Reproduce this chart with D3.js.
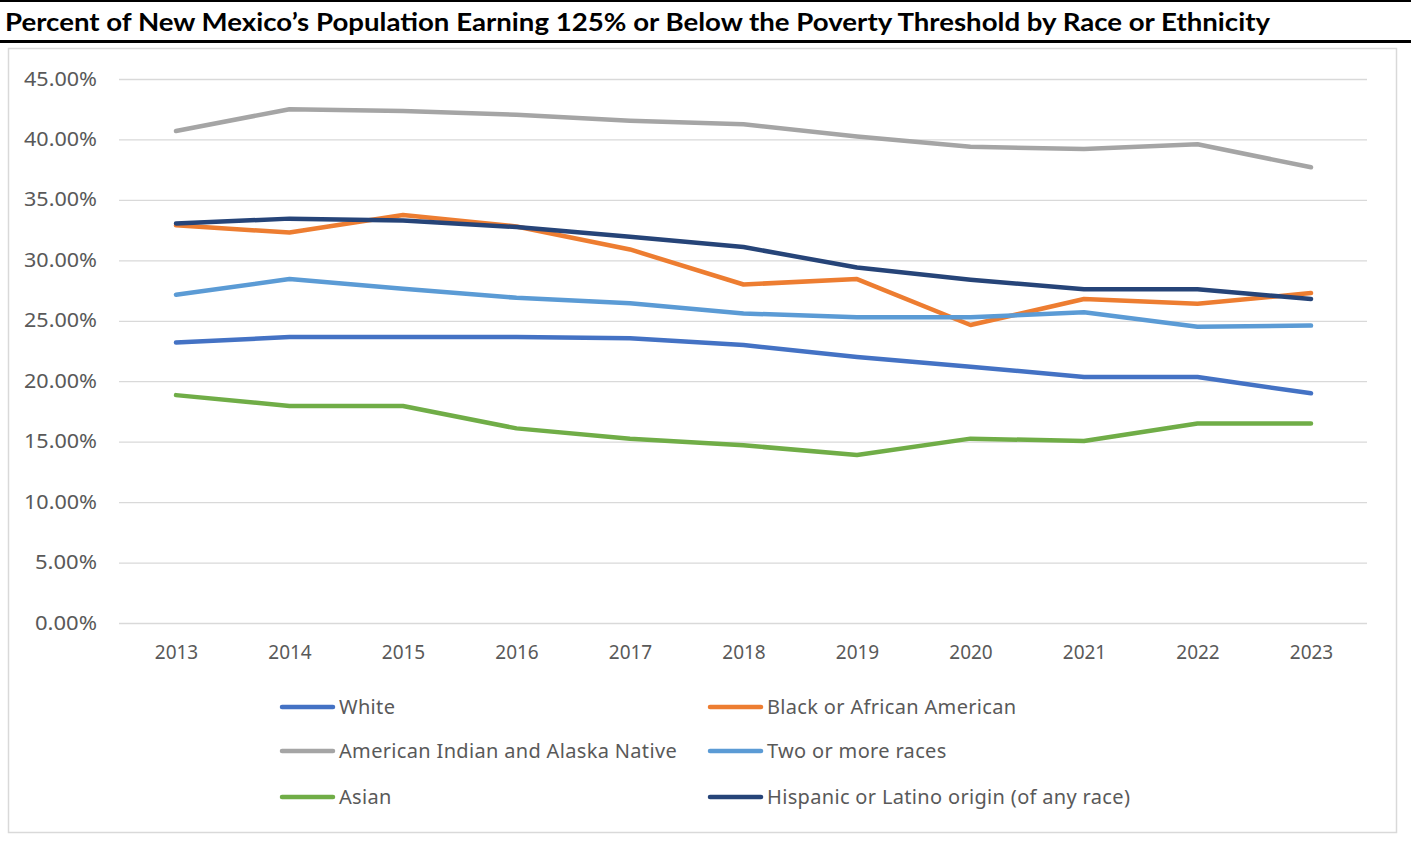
<!DOCTYPE html>
<html><head><meta charset="utf-8">
<script src="https://cdn.jsdelivr.net/npm/d3@7"></script>
<style>body{margin:0;background:#fff}svg{display:block}</style>
</head><body>
<svg id="c" width="1411" height="844"></svg>
<script>
const years = ["2013","2014","2015","2016","2017","2018","2019","2020","2021","2022","2023"];
const white    = [23.2,23.65,23.65,23.65,23.55,23.0,22.0,21.2,20.35,20.35,19.0];
const black    = [32.9,32.3,33.75,32.8,30.9,28.0,28.45,24.65,26.8,26.4,27.3];
const amIndian = [40.7,42.5,42.35,42.05,41.55,41.25,40.25,39.4,39.2,39.6,37.7];
const twoMore  = [27.15,28.45,27.65,26.9,26.45,25.6,25.3,25.3,25.7,24.5,24.6];
const asian    = [18.85,17.95,17.95,16.1,15.25,14.7,13.9,15.25,15.05,16.5,16.5];
const hispanic = [33.05,33.45,33.3,32.75,31.95,31.1,29.4,28.4,27.6,27.6,26.8];
const yTicks = [0,5,10,15,20,25,30,35,40,45];
const seriesNames = ["White","Black or African American","American Indian and Alaska Native","Two or more races","Asian","Hispanic or Latino origin (of any race)"];
const seriesColors = ["#4472C4","#ED7D31","#A5A5A5","#5B9BD5","#70AD47","#264478"];
const title = "Percent of New Mexico’s Population Earning 125% or Below the Poverty Threshold by Race or Ethnicity";

const seriesData = [white, black, amIndian, twoMore, asian, hispanic];
const svg = d3.select("#c");
const font = "'Noto Sans', sans-serif";

// title
svg.append("line").attr("x1",0).attr("x2",1411).attr("y1",1).attr("y2",1).attr("stroke","#000").attr("stroke-width",2);
svg.append("text").attr("x",5).attr("y",31).text(title)
  .attr("font-family","Lato, sans-serif").attr("font-weight","bold").attr("font-size",24)
  .attr("textLength",1265).attr("lengthAdjust","spacingAndGlyphs").attr("fill","#000");
svg.append("line").attr("x1",0).attr("x2",1411).attr("y1",41.5).attr("y2",41.5).attr("stroke","#000").attr("stroke-width",3);

// chart border
svg.append("rect").attr("x",8.5).attr("y",48.5).attr("width",1388).attr("height",784)
  .attr("fill","#fff").attr("stroke","#D9D9D9").attr("stroke-width",1.5);

const x = d3.scalePoint().domain(years).range([176,1311]);
const y = d3.scaleLinear().domain([0,45]).range([623,79]);

// gridlines
const gy = svg.append("g").attr("transform","translate(119,0)")
  .call(d3.axisLeft(y).tickValues(yTicks).tickSize(-1248).tickFormat(""));
gy.select(".domain").remove();
gy.selectAll(".tick line").attr("stroke","#D9D9D9").attr("stroke-width",1.3);

// y labels
const yl = svg.append("g").attr("transform","translate(97,0)")
  .call(d3.axisLeft(y).tickValues(yTicks).tickSize(0).tickPadding(0).tickFormat(d => d.toFixed(2) + "%"));
yl.select(".domain").remove();
yl.selectAll("text").attr("font-family",font).attr("font-size",19).attr("fill","#595959")
  .attr("textLength",73).attr("lengthAdjust","spacingAndGlyphs");
yl.selectAll(".tick").filter(d => d < 10).selectAll("text").attr("textLength",62);

// x labels
const xl = svg.append("g").attr("transform","translate(0,645)")
  .call(d3.axisBottom(x).tickSize(0).tickPadding(0));
xl.select(".domain").remove();
xl.selectAll("text").attr("font-family",font).attr("font-size",19).attr("fill","#595959").attr("dy","0.71em");

// lines
const line = d3.line().x((d,i) => x(years[i])).y(d => y(d));
seriesData.forEach((vals, k) => {
  svg.append("path").datum(vals).attr("d", line).attr("fill","none")
    .attr("stroke", seriesColors[k]).attr("stroke-width",4.5)
    .attr("stroke-linejoin","round").attr("stroke-linecap","round");
});

// legend
const legX = [280, 708];
const legY = [707, 751, 797];
seriesNames.forEach((name, k) => {
  const col = k % 2, row = Math.floor(k / 2);
  const g = svg.append("g").attr("transform", `translate(${legX[col]},${legY[row]})`);
  g.append("line").attr("x1",2).attr("x2",53).attr("y1",0).attr("y2",0)
    .attr("stroke", seriesColors[k]).attr("stroke-width",4.5).attr("stroke-linecap","round");
  g.append("text").attr("x",59).attr("y",0).attr("dy","0.35em").text(name)
    .attr("font-family",font).attr("font-size",20).attr("letter-spacing",0.33).attr("fill","#595959");
});
</script>
</body></html>
